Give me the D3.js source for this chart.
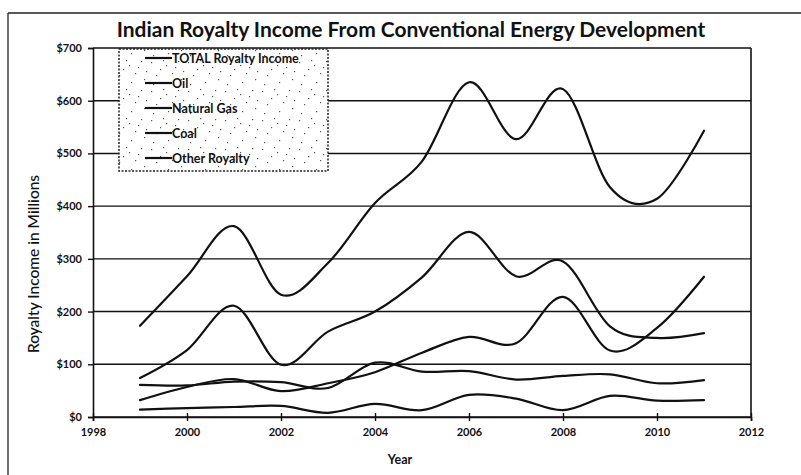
<!DOCTYPE html>
<html><head><meta charset="utf-8">
<script src="https://cdn.jsdelivr.net/npm/d3@7"></script>
<style>
html,body{margin:0;padding:0;background:#fff;}
svg{display:block;}
text{font-family:Lato,"Open Sans",sans-serif;fill:#111;}
</style></head>
<body>
<svg id="chart" width="801" height="475"></svg>
<script>
const years = [1999,2000,2001,2002,2003,2004,2005,2006,2007,2008,2009,2010,2011];
const totalRoyalty = [173,267,362,232,292,406,485,635,527,622,436,414,543];
const oil          = [74,127,211,99,162,200,265,351,267,295,172,150,159];
const naturalGas   = [32,57,72,49,64,85,122,152,140,228,126,169,266];
const coal         = [61,60,67,66,55,103,86,87,71,78,81,64,70];
const otherRoyalty = [14,17,19,21,8,25,13,42,35,13,40,31,32];
const seriesNames  = ["TOTAL Royalty Income","Oil","Natural Gas","Coal","Other Royalty"];
const yTicks = [0,100,200,300,400,500,600,700];
const xTicks = [1998,2000,2002,2004,2006,2008,2010,2012];
const titleText = "Indian Royalty Income From Conventional Energy Development";
const yTitle = "Royalty Income in Millions";
const xTitle = "Year";

const seriesValues = [totalRoyalty, oil, naturalGas, coal, otherRoyalty];

const svg = d3.select("#chart");
const x = d3.scaleLinear().domain([1998,2012]).range([93,751]);
const y = d3.scaleLinear().domain([0,700]).range([417,48]);

// outer frame (top + left edges of the scanned chart)
svg.append("line").attr("x1",8).attr("x2",801).attr("y1",13).attr("y2",13).attr("stroke","#222").attr("stroke-width",1.3);
svg.append("line").attr("x1",8).attr("x2",8).attr("y1",13).attr("y2",475).attr("stroke","#222").attr("stroke-width",1.3);

// title
const t = svg.append("text").attr("x",411).attr("y",37).attr("text-anchor","middle")
  .attr("font-size",19).attr("font-weight","bold").text(titleText);
const tl = t.node().getComputedTextLength();
t.attr("font-size", 19*589/tl);

// gridlines
svg.append("g").selectAll("line").data(yTicks).join("line")
  .attr("x1",x(1998)).attr("x2",x(2012))
  .attr("y1",d=>y(d)).attr("y2",d=>y(d))
  .attr("stroke","#111").attr("stroke-width",1.4);

// right plot border
svg.append("line").attr("x1",x(2012)).attr("x2",x(2012)).attr("y1",y(700)).attr("y2",y(0))
  .attr("stroke","#111").attr("stroke-width",1.6);

// y axis
const yAxis = svg.append("g").attr("transform",`translate(${x(1998)},0)`)
  .call(d3.axisLeft(y).tickValues(yTicks).tickFormat(d=>"$"+d).tickSize(5).tickPadding(6));
yAxis.select(".domain").attr("stroke","#111").attr("stroke-width",1.6);
yAxis.selectAll(".tick line").attr("stroke","#111").attr("stroke-width",1.4);
yAxis.selectAll("text").attr("font-size",11).attr("font-weight","bold").attr("fill","#111")
  .style("font-family","Lato, sans-serif");

// x axis
const xAxis = svg.append("g").attr("transform",`translate(0,${y(0)})`)
  .call(d3.axisBottom(x).tickValues(xTicks).tickFormat(d=>String(d)).tickSize(4).tickPadding(7));
xAxis.select(".domain").attr("stroke","#111").attr("stroke-width",1.6);
xAxis.selectAll(".tick line").attr("stroke","#111").attr("stroke-width",1.4);
xAxis.selectAll("text").attr("font-size",11).attr("font-weight","bold").attr("fill","#111")
  .style("font-family","Lato, sans-serif");
const xInner = svg.append("g").attr("transform",`translate(0,${y(0)})`)
  .call(d3.axisBottom(x).tickValues(xTicks).tickFormat("").tickSize(-4));
xInner.select(".domain").remove();
xInner.selectAll(".tick line").attr("stroke","#111").attr("stroke-width",1.4);

// axis titles
svg.append("text").attr("transform","translate(39,264) rotate(-90)").attr("text-anchor","middle")
  .attr("font-size",15.5).attr("font-weight","500").text(yTitle);
svg.append("text").attr("x",400).attr("y",464).attr("text-anchor","middle")
  .attr("font-size",12.5).attr("font-weight","bold").text(xTitle);

// series lines
const line = d3.line().x((d,i)=>x(years[i])).y(d=>y(d)).curve(d3.curveCardinal.tension(0));
svg.append("g").selectAll("path").data(seriesValues).join("path")
  .attr("d",d=>line(d)).attr("fill","none").attr("stroke","#111").attr("stroke-width",2.2)
  .attr("stroke-linejoin","round").attr("stroke-linecap","round");

// legend with scanned speckle
const defs = svg.append("defs");
const pat = defs.append("pattern").attr("id","speck").attr("patternUnits","userSpaceOnUse")
  .attr("width",37).attr("height",29);
const dots = [[3,4],[15,2],[27,9],[33,21],[8,17],[20,24],[12,11],[30,3],[24,15],[5,26],[18,7],[35,13]];
pat.selectAll("rect").data(dots).join("rect").attr("x",d=>d[0]).attr("y",d=>d[1])
  .attr("width",1.2).attr("height",1.2).attr("fill","#555");
const lg = svg.append("g");
lg.append("rect").attr("x",119).attr("y",49).attr("width",209).attr("height",122).attr("fill","#fff");
lg.append("rect").attr("x",119).attr("y",49).attr("width",209).attr("height",122).attr("fill","url(#speck)")
  .attr("stroke","#222").attr("stroke-width",1.5).attr("stroke-dasharray","2,1.5");
const rows = lg.selectAll("g.row").data(seriesNames).join("g").attr("class","row")
  .attr("transform",(d,i)=>`translate(0,${58+i*25})`);
rows.append("line").attr("x1",145).attr("x2",172).attr("y1",0).attr("y2",0)
  .attr("stroke","#111").attr("stroke-width",2.2);
rows.append("text").attr("x",172).attr("y",4.5).attr("font-size",12.5).attr("font-weight","bold").text(d=>d);
</script>
</body></html>
